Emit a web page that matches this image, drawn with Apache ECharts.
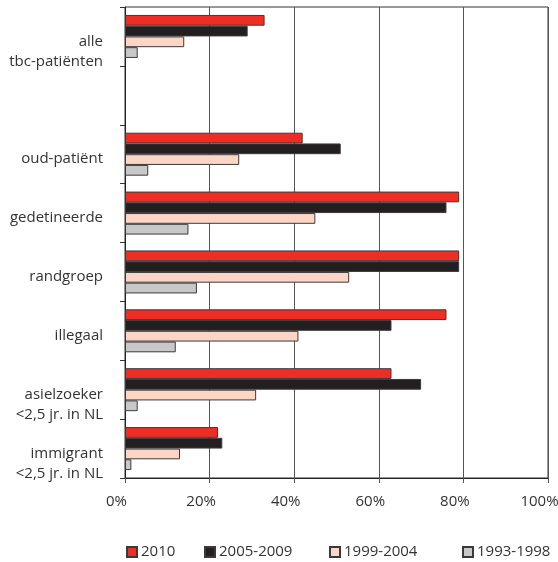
<!DOCTYPE html>
<html>
<head>
<meta charset="utf-8">
<script src="https://cdn.jsdelivr.net/npm/echarts@6/dist/echarts.min.js"></script>
<style>
  html, body { margin: 0; padding: 0; background: #fff; }
  #chart { width: 558px; height: 562px; }
</style>
</head>
<body>
<div id="chart"></div>
<script>
// Groups (top to bottom); the empty entry leaves a blank row under the total
const categories = [
  'alle\ntbc-patiënten',
  '',
  'oud-patiënt',
  'gedetineerde',
  'randgroep',
  'illegaal',
  'asielzoeker\n<2,5 jr. in NL',
  'immigrant\n<2,5 jr. in NL'
];

// Percentages per period
const values2010     = [33, '-', 42, 79, 79, 76, 63, 22];
const values20052009 = [29, '-', 51, 76, 79, 63, 70, 23];
const values19992004 = [14, '-', 27, 45, 53, 41, 31, 13];
const values19931998 = [3,  '-', 5.5, 15, 17, 12, 3, 1.5];

const periods = ['2010', '2005-2009', '1999-2004', '1993-1998'];
const xTicks = [0, 20, 40, 60, 80, 100];

const colors = ['#ee2e24', '#231f20', '#fdd5c5', '#c8c8c8'];
const FONT = 'Open Sans';

const chart = echarts.init(document.getElementById('chart'), null, { renderer: 'canvas' });

const seriesValues = [values2010, values20052009, values19992004, values19931998];

function categoryLabel(value) {
  if (!value) return '';
  const lines = value.split('\n');
  const spacer = lines.length === 1 ? '{s1| }' : '{s2| }';
  return spacer + '\n' + lines.map(l => '{t|' + l + '}').join('\n');
}

const legendLefts = [126, 204, 329, 462];

const option = {
  animation: false,
  backgroundColor: '#ffffff',
  textStyle: { fontFamily: FONT },
  grid: {
    left: 125, right: 10, top: 7, bottom: 84,
    containLabel: false,
    outerBoundsMode: 'none',
    show: true, borderColor: '#333', borderWidth: 1
  },
  legend: periods.map((p, i) => ({
    data: [p],
    left: legendLefts[i],
    top: 543,
    padding: 0,
    itemWidth: 10,
    itemHeight: 10,
    itemGap: 0,
    icon: 'rect',
    selectedMode: false,
    textStyle: { fontFamily: FONT, fontSize: 15, color: '#333', lineHeight: 18, padding: [0, 0, 0, -1] }
  })),
  xAxis: {
    type: 'value',
    min: xTicks[0],
    max: xTicks[xTicks.length - 1],
    interval: 20,
    axisLine: { show: true, lineStyle: { color: '#222', width: 1 } },
    axisTick: { show: true, inside: false, length: 5, lineStyle: { color: '#555' } },
    splitLine: { show: true, lineStyle: { color: '#555', width: 1 } },
    axisLabel: {
      formatter: '{value}%',
      fontFamily: FONT,
      fontSize: 15,
      color: '#333',
      lineHeight: 18,
      margin: 15,
      padding: [0, 17, 0, 0]
    }
  },
  yAxis: {
    type: 'category',
    inverse: true,
    data: categories,
    axisLine: { show: true, lineStyle: { color: '#222', width: 1 } },
    axisTick: { show: true, inside: false, length: 5, alignWithLabel: false, lineStyle: { color: '#333' } },
    splitLine: { show: false },
    axisLabel: {
      margin: 22,
      align: 'right',
      verticalAlign: 'middle',
      formatter: categoryLabel,
      rich: {
        s1: { lineHeight: 10, fontSize: 1 },
        s2: { lineHeight: 30, fontSize: 1 },
        t: { fontFamily: FONT, fontSize: 15, lineHeight: 20, color: '#333', align: 'right' }
      }
    }
  },
  series: periods.map((p, i) => ({
    name: p,
    type: 'bar',
    data: seriesValues[i],
    barGap: '0%',
    barCategoryGap: '27%',
    itemStyle: { color: colors[i], borderColor: '#3a3a3a', borderWidth: 1 }
  }))
};

chart.setOption(option);
</script>
</body>
</html>
